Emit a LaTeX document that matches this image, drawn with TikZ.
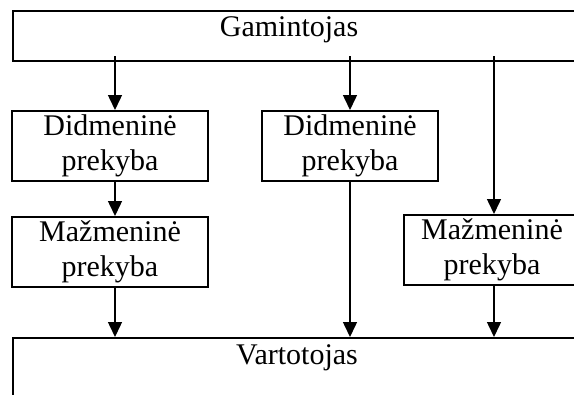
\documentclass[tikz,border=0pt]{standalone}
\usepackage{fontspec}
\setmainfont{Liberation Serif}
\usetikzlibrary{arrows.meta, positioning}

\begin{document}
\begin{tikzpicture}[x=0.4pt, y=-0.4pt,
    txt/.style={font=\fontsize{12}{14}\selectfont},
    box/.style={draw, txt, line width=0.8pt, inner sep=0pt, minimum height=28pt, align=center},
    wide/.style={draw, line width=0.8pt, inner sep=0pt, anchor=north west, minimum width=280pt},
    arr/.style={-{Triangle[length=6pt, width=5.6pt]}, line width=0.6pt}]
    \useasboundingbox (0,0) rectangle (574,394);
    \clip (0,0) rectangle (574,394);

    % top and bottom bars
    \node[wide, minimum height=20pt] (gam) at (12,10) {};
    \node[txt, anchor=base] (gamtxt) at (289,36) {Gamintojas};
    \node[wide, minimum height=40pt] (var) at (12,337) {};
    \node[txt, anchor=base] (vartxt) at (297,364) {Vartotojas};

    % channels
    \node[box, minimum width=78.4pt] (d1) at (110,146) {Didmeninė\\prekyba};
    \node[box, minimum width=78.4pt, below=13.6pt of d1] (m1) {Mažmeninė\\prekyba};
    \node[box, minimum width=70.4pt] (d2) at (350,146) {Didmeninė\\prekyba};
    \node[box, minimum width=70.4pt] (m2) at (492,250) {Mažmeninė\\prekyba};

    \coordinate (c1) at (115,0);
    \coordinate (c3) at (494,0);

    \draw[arr, shorten <=-2.4pt] (gam.south -| c1) -- (d1.north -| c1);
    \draw[arr, shorten <=-2.4pt] (gam.south -| d2.north) -- (d2.north);
    \draw[arr, shorten <=-2.4pt] (gam.south -| c3) -- (m2.north -| c3);
    \draw[arr] (d1.south -| c1) -- (m1.north -| c1);
    \draw[arr] (m1.south -| c1) -- (var.north -| c1);
    \draw[arr] (d2.south) -- (var.north -| d2.south);
    \draw[arr] (m2.south -| c3) -- (var.north -| c3);
\end{tikzpicture}
\end{document}
